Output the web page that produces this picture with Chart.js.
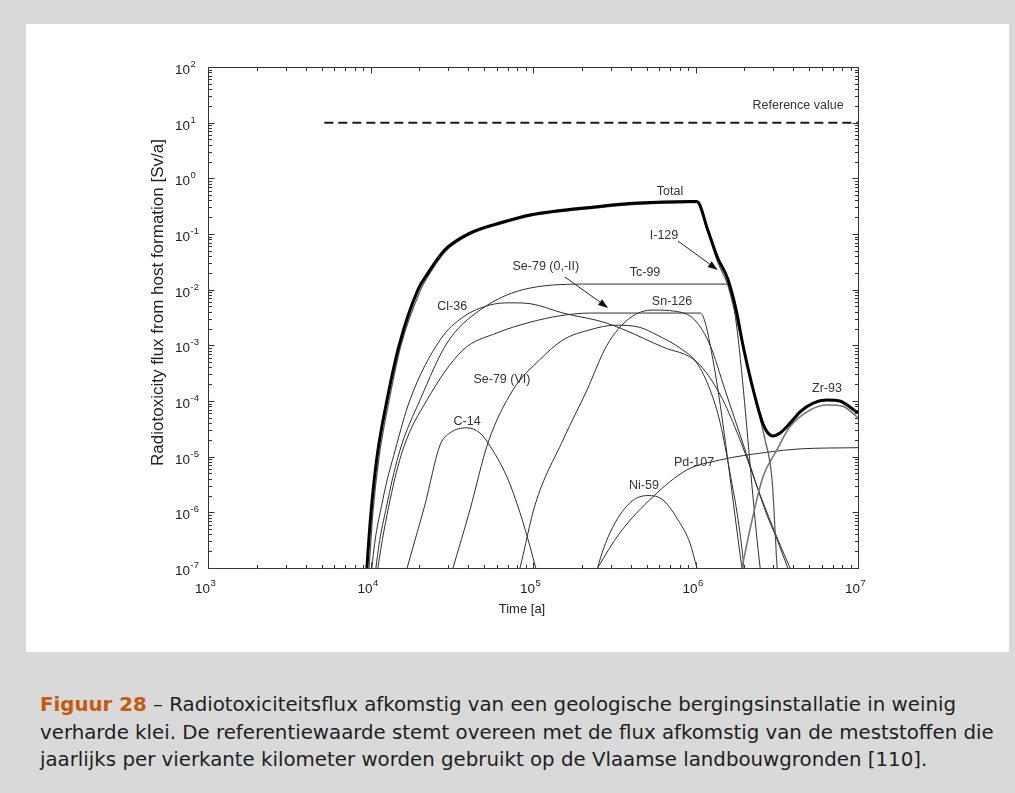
<!DOCTYPE html>
<html><head><meta charset="utf-8">
<script src="https://cdn.jsdelivr.net/npm/chart.js@4.4.0/dist/chart.umd.min.js"></script>
<style>
html,body{margin:0;padding:0;}
body{width:1015px;height:793px;background:#d9d9d9;position:relative;overflow:hidden;}
#panel{position:absolute;left:26px;top:24px;width:983px;height:628px;background:#fff;}
#panel canvas{position:absolute;left:0;top:0;}
#caption{position:absolute;left:40px;top:691px;font-family:"DejaVu Sans",Verdana,sans-serif;font-size:19.8px;line-height:27.5px;color:#1e1e1e;white-space:nowrap;}
#caption b{color:#c55a11;}
</style></head>
<body>
<div id="panel"><canvas id="c" width="983" height="628"></canvas></div>
<div id="caption"><b>Figuur 28</b> – Radiotoxiciteitsflux afkomstig van een geologische bergingsinstallatie in weinig<br>verharde klei. De referentiewaarde stemt overeen met de flux afkomstig van de meststoffen die<br>jaarlijks per vierkante kilometer worden gebruikt op de Vlaamse landbouwgronden [110].</div>
<script>
// ---- axis ticks ----
const xMajorTicks = [1e3, 1e4, 1e5, 1e6, 1e7];
const yMajorTicks = [1e-7, 1e-6, 1e-5, 1e-4, 1e-3, 1e-2, 1e-1, 1e0, 1e1, 1e2];
const minorMultipliers = [2, 3, 4, 5, 6, 7, 8, 9];
const xTitle = 'Time [a]';
const yTitle = 'Radiotoxicity flux from host formation [Sv/a]';

// ---- series (time [a], flux [Sv/a]) ----
const refT = [5.2e3, 1e7];
const refV = [10, 10];

const totalT = [9.25e3, 9.5e3, 1.007e4, 1.097e4, 1.26e4, 1.5e4, 1.96e4, 2.26e4, 2.87e4, 4.09e4, 6.53e4, 9.56e4, 2.48e5, 4.37e5, 9.25e5, 1.02e6, 1.19e6, 1.37e6, 1.58e6, 1.78e6, 1.96e6, 2.26e6, 2.6e6, 2.79e6, 3.0e6, 3.31e6, 3.82e6, 4.4e6, 5.3e6, 6.4e6, 7.7e6, 1e7];
const totalV = [2.7e-8, 1e-7, 1e-6, 1e-5, 1e-4, 1e-3, 1e-2, 0.02, 0.052, 0.104, 0.164, 0.22, 0.31, 0.36, 0.385, 0.385, 0.118, 0.037, 0.0156, 4.3e-3, 1.0e-3, 1.64e-4, 3.9e-5, 2.66e-5, 2.35e-5, 2.66e-5, 4.0e-5, 6.4e-5, 9.2e-5, 1.04e-4, 1e-4, 6.1e-5];

const i129T = [9.5e3, 9.8e3, 1.035e4, 1.13e4, 1.3e4, 1.54e4, 2.02e4, 2.3e4, 2.9e4, 4.1e4, 6.5e4, 9.6e4, 2.5e5, 4.4e5, 9.25e5, 1.02e6, 1.19e6, 1.37e6, 1.58e6, 1.78e6, 2.02e6, 2.32e6, 2.68e6, 2.96e6, 3.18e6, 3.3e6];
const i129V = [2.7e-8, 1e-7, 1e-6, 1e-5, 1e-4, 1e-3, 9.5e-3, 0.019, 0.049, 0.098, 0.155, 0.21, 0.295, 0.34, 0.365, 0.365, 0.109, 0.0314, 0.0121, 3.1e-3, 6.7e-4, 1.13e-4, 2e-5, 3.8e-6, 1e-7, 2.5e-8];

const tc99T = [1.04e4, 1.08e4, 1.28e4, 1.52e4, 2.02e4, 2.96e4, 4.72e4, 9.6e4, 2.24e5, 1.56e6, 2.5e6, 2.64e6];
const tc99V = [2.7e-8, 1e-7, 1.67e-6, 1.32e-5, 1.05e-4, 1.1e-3, 4.3e-3, 0.0107, 0.0126, 0.0126, 1e-7, 2.7e-8];

const cl36T = [9.9e3, 1.02e4, 1.19e4, 1.42e4, 1.75e4, 2.68e4, 3.7e4, 5.43e4, 7.2e4, 9.6e4, 1.53e5, 2.85e5, 6.3e5, 1.02e6, 1.42e6, 1.88e6, 2.5e6, 3.22e6, 3.82e6, 4.66e6];
const cl36V = [2.7e-8, 1e-7, 1.67e-6, 1.32e-5, 1.05e-4, 1.25e-3, 3.2e-3, 5.3e-3, 5.8e-3, 5.6e-3, 3.8e-3, 2.5e-3, 9.3e-4, 5e-4, 1.29e-4, 2e-5, 2.05e-6, 3.2e-7, 1e-7, 2.7e-8];

const se79aT = [1.05e4, 1.11e4, 1.32e4, 1.58e4, 2.23e4, 3.7e4, 6.0e4, 9.6e4, 1.47e5, 2.24e5, 1.07e6, 1.28e6, 1.93e6, 2.05e6];
const se79aV = [2.7e-8, 1e-7, 1.67e-6, 1.32e-5, 1.05e-4, 8.2e-4, 1.67e-3, 2.6e-3, 3.4e-3, 3.8e-3, 3.8e-3, 5.5e-4, 1e-7, 2.7e-8];

const se79bT = [2.83e4, 3.22e4, 4.09e4, 5.28e4, 7.53e4, 1.1e5, 1.53e5, 2.24e5, 3.2e5, 4.55e5, 5.8e5, 8.0e5, 1.02e6, 1.23e6, 1.42e6, 1.63e6, 1.83e6, 1.99e6, 2.07e6];
const se79bV = [2.7e-8, 1e-7, 1.1e-6, 1.76e-5, 1.58e-4, 5.5e-4, 1.25e-3, 1.9e-3, 2.3e-3, 2.1e-3, 1.53e-3, 9e-4, 4.8e-4, 1.58e-4, 4e-5, 5.1e-6, 7.3e-7, 1e-7, 2.7e-8];

const sn126T = [7.43e4, 8.32e4, 1.03e5, 1.53e5, 2.15e5, 2.85e5, 3.95e5, 5.47e5, 7.48e5, 9.9e5, 1.23e6, 1.52e6, 2.02e6, 2.68e6, 3.18e6, 3.7e6, 4.46e6];
const sn126V = [2.7e-8, 1e-7, 1.36e-6, 2e-5, 1.58e-4, 1.0e-3, 3.1e-3, 4.3e-3, 4.1e-3, 2.85e-3, 1.0e-3, 1.58e-4, 1.32e-5, 1.1e-6, 3.2e-7, 1e-7, 2.7e-8];

const c14T = [1.47e4, 1.68e4, 1.88e4, 2.16e4, 2.68e4, 3.08e4, 3.93e4, 4.72e4, 5.29e4, 6.92e4, 8.32e4, 9.6e4, 1.04e5, 1.19e5];
const c14V = [2.7e-8, 1e-7, 3.2e-7, 1.35e-6, 1.62e-5, 2.66e-5, 3.3e-5, 2.66e-5, 1.76e-5, 4.3e-6, 9.8e-7, 2.4e-7, 1e-7, 2.7e-8];

const ni59T = [2.28e5, 2.5e5, 2.98e5, 3.95e5, 5.1e5, 6.3e5, 8.0e5, 9.25e5, 1.02e6, 1.16e6];
const ni59V = [2.7e-8, 1e-7, 4.3e-7, 1.48e-6, 2.0e-6, 1.67e-6, 6.5e-7, 2.8e-7, 1e-7, 2.7e-8];

const pd107T = [1.95e5, 2.5e5, 3.43e5, 5.47e5, 8.87e5, 1.41e6, 2.75e6, 4.4e6, 1e7];
const pd107V = [2.7e-8, 1e-7, 4.3e-7, 1.9e-6, 5.8e-6, 8.7e-6, 1.2e-5, 1.38e-5, 1.45e-5];

const zr93T = [1.75e6, 1.93e6, 2.23e6, 2.6e6, 3.17e6, 3.8e6, 5.07e6, 6.45e6, 8.1e6, 1e7];
const zr93V = [2.7e-8, 1e-7, 7.3e-7, 4.3e-6, 1.32e-5, 3.4e-5, 6.9e-5, 8.5e-5, 8e-5, 5e-5];

// ---- in-plot labels (anchored in data coordinates) ----
const labelText = ['Reference value', 'Total', 'I-129', 'Se-79 (0,-II)', 'Tc-99', 'Cl-36', 'Sn-126', 'Se-79 (VI)', 'C-14', 'Ni-59', 'Pd-107', 'Zr-93'];
const labelT = [4.28e6, 6.97e5, 6.4e5, 1.2e5, 4.89e5, 3.18e4, 7.17e5, 6.44e4, 3.93e4, 4.82e5, 9.8e5, 6.44e6];
const labelV = [20.7, 0.59, 0.092, 0.0255, 0.02, 4.9e-3, 6e-3, 2.4e-4, 4.2e-5, 3e-6, 7.7e-6, 1.7e-4];

const arrowFromT = [7.8e5, 1.57e5];
const arrowFromV = [0.0748, 0.0169];
const arrowToT = [1.37e6, 2.9e5];
const arrowToV = [0.0226, 4.7e-3];

// ---- build datasets ----
const pts = (t, v) => t.map((x, i) => ({x: x, y: v[i]}));
const thin = {borderColor: '#2e2e2e', borderWidth: 1};
const series = [
  {label: 'Total', t: totalT, v: totalV, style: {borderColor: '#000', borderWidth: 3}},
  {label: 'I-129', t: i129T, v: i129V, style: {borderColor: '#555', borderWidth: 1.2}},
  {label: 'Zr-93', t: zr93T, v: zr93V, style: {borderColor: '#777', borderWidth: 1.6}},
  {label: 'Tc-99', t: tc99T, v: tc99V, style: thin},
  {label: 'Cl-36', t: cl36T, v: cl36V, style: thin},
  {label: 'Se-79 (0,-II)', t: se79aT, v: se79aV, style: thin},
  {label: 'Se-79 (VI)', t: se79bT, v: se79bV, style: thin},
  {label: 'Sn-126', t: sn126T, v: sn126V, style: thin},
  {label: 'C-14', t: c14T, v: c14V, style: thin},
  {label: 'Ni-59', t: ni59T, v: ni59V, style: thin},
  {label: 'Pd-107', t: pd107T, v: pd107V, style: thin},
  {label: 'Reference value', t: refT, v: refV, style: {borderColor: '#1a1a1a', borderWidth: 2, borderDash: [9, 5]}, straight: true}
];
const datasets = series.map(s => Object.assign({
  label: s.label,
  data: pts(s.t, s.v),
  pointRadius: 0,
  fill: false,
  cubicInterpolationMode: s.straight ? 'default' : 'monotone',
  tension: 0
}, s.style));

const FONT = '"Liberation Sans", Arial, Helvetica, sans-serif';

function drawPow(ctx, exp, xLeft, baseline) {
  ctx.font = '13.5px ' + FONT;
  ctx.fillText('10', xLeft, baseline);
  const w = ctx.measureText('10').width;
  ctx.font = '9.5px ' + FONT;
  ctx.fillText(String(exp), xLeft + w + 0.5, baseline - 7);
}

const overlay = {
  id: 'overlay',
  afterDatasetsDraw(chart) {
    const {ctx, chartArea: a, scales: {x, y}} = chart;
    ctx.save();
    // frame
    ctx.strokeStyle = '#333';
    ctx.lineWidth = 1;
    const L = Math.round(a.left) + 0.5, T = Math.round(a.top) + 0.5;
    const R = Math.round(a.right) + 0.5, B = Math.round(a.bottom) + 0.5;
    ctx.strokeRect(L, T, R - L, B - T);
    // tick marks (inside, all four sides)
    ctx.beginPath();
    xMajorTicks.forEach((d, i) => {
      const px = Math.round(x.getPixelForValue(d)) + 0.5;
      ctx.moveTo(px, B); ctx.lineTo(px, B - 6);
      ctx.moveTo(px, T); ctx.lineTo(px, T + 6);
      if (i < xMajorTicks.length - 1) minorMultipliers.forEach(m => {
        const p = Math.round(x.getPixelForValue(d * m)) + 0.5;
        ctx.moveTo(p, B); ctx.lineTo(p, B - 3.5);
        ctx.moveTo(p, T); ctx.lineTo(p, T + 3.5);
      });
    });
    yMajorTicks.forEach((d, i) => {
      const py = Math.round(y.getPixelForValue(d)) + 0.5;
      ctx.moveTo(L, py); ctx.lineTo(L + 6, py);
      ctx.moveTo(R, py); ctx.lineTo(R - 6, py);
      if (i < yMajorTicks.length - 1) minorMultipliers.forEach(m => {
        const p = Math.round(y.getPixelForValue(d * m)) + 0.5;
        ctx.moveTo(L, p); ctx.lineTo(L + 3.5, p);
        ctx.moveTo(R, p); ctx.lineTo(R - 3.5, p);
      });
    });
    ctx.stroke();
    // tick labels
    ctx.fillStyle = '#222';
    ctx.textAlign = 'left';
    ctx.textBaseline = 'alphabetic';
    xMajorTicks.forEach(d => {
      const px = x.getPixelForValue(d);
      drawPow(ctx, Math.round(Math.log10(d)), px - 13, a.bottom + 25);
    });
    yMajorTicks.forEach(d => {
      const py = y.getPixelForValue(d);
      drawPow(ctx, Math.round(Math.log10(d)), a.left - 33, py + 7);
    });
    // axis titles
    ctx.font = '13px ' + FONT;
    ctx.textAlign = 'center';
    ctx.textBaseline = 'middle';
    ctx.fillText(xTitle, (a.left + a.right) / 2 - 11, a.bottom + 41);
    ctx.save();
    ctx.translate(a.left - 50, (a.top + a.bottom) / 2 - 15);
    ctx.rotate(-Math.PI / 2);
    ctx.font = '17px ' + FONT;
    ctx.fillText(yTitle, 0, 0);
    ctx.restore();
    // in-plot labels
    ctx.font = '12.5px ' + FONT;
    ctx.fillStyle = '#333';
    labelText.forEach((txt, i) => {
      ctx.fillText(txt, x.getPixelForValue(labelT[i]), y.getPixelForValue(labelV[i]));
    });
    // arrows
    ctx.strokeStyle = '#222';
    ctx.fillStyle = '#111';
    ctx.lineWidth = 1;
    arrowFromT.forEach((t0, i) => {
      const x1 = x.getPixelForValue(t0), y1 = y.getPixelForValue(arrowFromV[i]);
      const x2 = x.getPixelForValue(arrowToT[i]), y2 = y.getPixelForValue(arrowToV[i]);
      const ang = Math.atan2(y2 - y1, x2 - x1);
      const hl = 10, hw = 3.5;
      const bx = x2 - hl * Math.cos(ang), by = y2 - hl * Math.sin(ang);
      ctx.beginPath(); ctx.moveTo(x1, y1); ctx.lineTo(bx, by); ctx.stroke();
      ctx.beginPath();
      ctx.moveTo(x2, y2);
      ctx.lineTo(bx + hw * Math.sin(ang), by - hw * Math.cos(ang));
      ctx.lineTo(bx - hw * Math.sin(ang), by + hw * Math.cos(ang));
      ctx.closePath(); ctx.fill();
    });
    ctx.restore();
  }
};

new Chart(document.getElementById('c'), {
  type: 'line',
  data: {datasets: datasets},
  options: {
    responsive: false,
    animation: false,
    devicePixelRatio: 1,
    layout: {padding: {left: 0, top: 43, right: 151, bottom: 0}},
    plugins: {legend: {display: false}, tooltip: {enabled: false}},
    scales: {
      x: {
        type: 'logarithmic', min: 1e3, max: 1e7, position: 'bottom',
        afterBuildTicks: s => { s.ticks = xMajorTicks.map(v => ({value: v, major: true})); },
        afterFit: s => { s.height = 84; },
        ticks: {display: false},
        grid: {display: false}, border: {display: false}
      },
      y: {
        type: 'logarithmic', min: 1e-7, max: 1e2, position: 'left',
        afterBuildTicks: s => { s.ticks = yMajorTicks.map(v => ({value: v, major: true})); },
        afterFit: s => { s.width = 182; },
        ticks: {display: false},
        grid: {display: false}, border: {display: false}
      }
    }
  },
  plugins: [overlay]
});
</script>
</body></html>
